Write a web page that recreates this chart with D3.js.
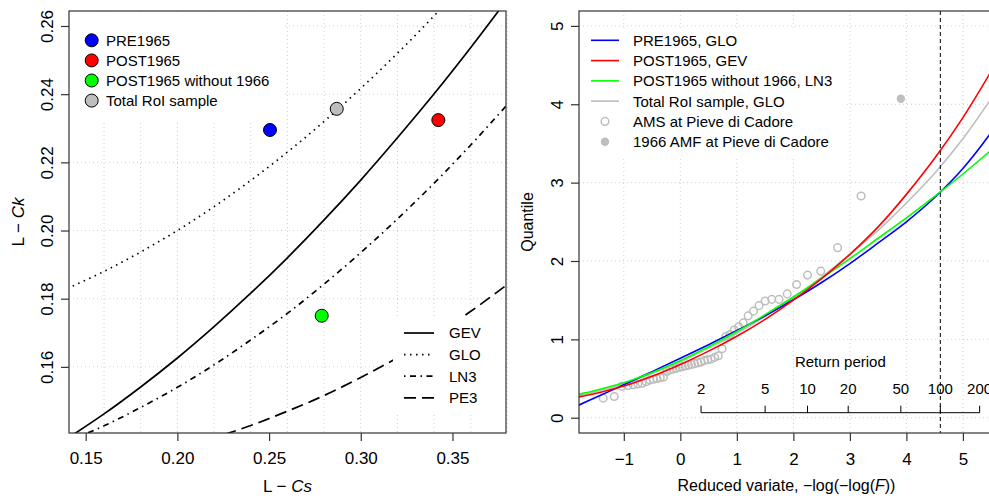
<!DOCTYPE html>
<html><head><meta charset="utf-8">
<script src="https://cdn.jsdelivr.net/npm/d3@7"></script>
<style>body{margin:0;background:#fff}svg{display:block;font-family:"Liberation Sans",Arial,Helvetica,sans-serif}</style>
</head><body><svg id="c" width="989" height="499"></svg>
<script>
// ---------- LEFT PANEL DATA: L-moment ratio diagram ----------
const lcsGrid = [0.14,0.16,0.18,0.20,0.22,0.24,0.26,0.28,0.30,0.32,0.34,0.36,0.38];
const gevLCk  = [0.1390,0.1462,0.1541,0.1626,0.1718,0.1816,0.1920,0.2031,0.2148,0.2272,0.2401,0.2537,0.2679];
const gloLCk  = [0.1830,0.1880,0.1937,0.2000,0.2070,0.2147,0.2230,0.2320,0.2417,0.2520,0.2630,0.2747,0.2870];
const ln3LCk  = [0.1381,0.1427,0.1481,0.1540,0.1606,0.1679,0.1757,0.1843,0.1935,0.2034,0.2139,0.2251,0.2370];
const pe3LCk  = [0.1287,0.1307,0.1331,0.1359,0.1392,0.1428,0.1470,0.1516,0.1569,0.1627,0.1692,0.1763,0.1842];
const distNames = ["GEV","GLO","LN3","PE3"];
const groupNames = ["PRE1965","POST1965","POST1965 without 1966","Total RoI sample"];
const groupColors = ["#0000ff","#ff0000","#00ff00","#bebebe"];
const groupLCs = [0.2505,0.3423,0.2787,0.2869];
const groupLCk = [0.2295,0.2324,0.1750,0.2357];
const lcsTicks = [0.15,0.20,0.25,0.30,0.35];
const lckTicks = [0.16,0.18,0.20,0.22,0.24,0.26];
const lcsGridLines = [0.16,0.18,0.20,0.22,0.24,0.26,0.28,0.30,0.32,0.34,0.36,0.38];

// ---------- RIGHT PANEL DATA: growth curves ----------
const reducedGrid = [-1.8,-1.5,-1,-0.5,0,0.5,1,1.5,2,2.5,3,3.5,4,4.5,5,5.5,5.8];
const pre1965GLO  = [0.16,0.258,0.42,0.588,0.758,0.932,1.112,1.302,1.505,1.725,1.967,2.23,2.50,2.81,3.18,3.64,3.96];
const post1965GEV = [0.265,0.31,0.405,0.53,0.68,0.85,1.04,1.255,1.50,1.775,2.085,2.435,2.85,3.31,3.83,4.42,4.80];
const postNo66LN3 = [0.30,0.348,0.445,0.578,0.728,0.905,1.10,1.315,1.54,1.78,2.03,2.29,2.55,2.825,3.11,3.415,3.61];
const totalGLO    = [0.28,0.33,0.43,0.565,0.715,0.885,1.075,1.29,1.53,1.795,2.085,2.39,2.74,3.12,3.56,4.07,4.40];
const curveNames = ["PRE1965, GLO","POST1965, GEV","POST1965 without 1966, LN3","Total RoI sample, GLO"];
const curveColors = ["#0000ff","#ff0000","#00ff00","#bebebe"];
// sorted annual maxima (growth factors) at Pieve di Cadore, 1966 excluded
const amsValues = [0.25,0.27,0.40,0.41,0.42,0.43,0.44,0.46,0.48,0.49,0.50,0.51,0.52,0.59,0.61,0.62,0.63,0.64,0.65,0.66,0.67,0.68,0.69,0.70,0.71,0.73,0.74,0.75,0.77,0.79,0.88,1.04,1.06,1.12,1.16,1.21,1.30,1.36,1.43,1.49,1.51,1.51,1.58,1.70,1.82,1.87,2.17,2.83];
const amf1966 = 4.07;
const returnPeriods = [2,5,10,20,50,100,200];
const designReturnPeriod = 100;
const quantileTicks = [0,1,2,3,4,5];
const reducedTicks = [-1,0,1,2,3,4,5];

// ---------- DRAWING ----------
const svg = d3.select("#c");
const FONT = 17, LEG = 15;
const axisCol = "#333";
const gridCol = "#cfcfcf";

// Left scales
const L = {x0:69, x1:506, y0:11, y1:433};
const xL = d3.scaleLinear().domain([0.1409,0.3792]).range([L.x0,L.x1]);
const yL = d3.scaleLinear().domain([0.1406,0.2644]).range([L.y1,L.y0]);
// Right scales
const R = {x0:579, x1:994, y0:11, y1:433};
const xR = d3.scaleLinear().domain([-1.793,5.55]).range([R.x0,R.x1]);
const yR = d3.scaleLinear().domain([-0.195,5.19]).range([R.y1,R.y0]);
const reducedVariate = T => -Math.log(-Math.log(1 - 1/T));

const defs = svg.append("defs");
defs.append("clipPath").attr("id","clipL").append("rect").attr("x",L.x0).attr("y",L.y0).attr("width",L.x1-L.x0).attr("height",L.y1-L.y0);
defs.append("clipPath").attr("id","clipR").append("rect").attr("x",R.x0).attr("y",R.y0).attr("width",R.x1-R.x0).attr("height",R.y1-R.y0);

// ----- left panel -----
const gL = svg.append("g");
const gridL = gL.append("g").attr("stroke",gridCol).attr("stroke-dasharray","1,3").attr("stroke-width",1);
gridL.selectAll("line.v").data(lcsGridLines).join("line").attr("x1",d=>xL(d)).attr("x2",d=>xL(d)).attr("y1",L.y0).attr("y2",L.y1);
gridL.selectAll("line.h").data(lckTicks).join("line").attr("x1",L.x0).attr("x2",L.x1).attr("y1",d=>yL(d)).attr("y2",d=>yL(d));

const curvesL = [gevLCk, gloLCk, ln3LCk, pe3LCk];
const dashL = [null,"1.5,4.5","1.5,4.5,6,4.5","12,6"];
const lineL = d3.line().x(d=>xL(d[0])).y(d=>yL(d[1])).curve(d3.curveCatmullRom);
const cg = gL.append("g").attr("clip-path","url(#clipL)");
curvesL.forEach((arr,i)=>{
  cg.append("path").datum(lcsGrid.map((v,j)=>[v,arr[j]])).attr("d",lineL)
    .attr("fill","none").attr("stroke","#000").attr("stroke-width",1.7)
    .attr("stroke-dasharray",dashL[i]);
});

// legends (white background)
gL.append("rect").attr("x",70).attr("y",12).attr("width",213).attr("height",111).attr("fill","#fff");
gL.append("rect").attr("x",393).attr("y",318).attr("width",112).attr("height",96).attr("fill","#fff");

// points
gL.append("g").selectAll("circle").data(groupNames).join("circle")
  .attr("cx",(d,i)=>xL(groupLCs[i])).attr("cy",(d,i)=>yL(groupLCk[i])).attr("r",6.5)
  .attr("fill",(d,i)=>groupColors[i]).attr("stroke","#000").attr("stroke-width",1);

// top-left legend
const lg1 = gL.append("g");
groupNames.forEach((n,i)=>{
  const cy = 40.3 + i*20.1;
  lg1.append("circle").attr("cx",91.7).attr("cy",cy).attr("r",6.5).attr("fill",groupColors[i]).attr("stroke","#000").attr("stroke-width",1);
  lg1.append("text").attr("x",106).attr("y",cy+5.4).attr("font-size",LEG).text(n);
});
// bottom-right legend
const lg2 = gL.append("g");
distNames.forEach((n,i)=>{
  const cy = 333 + i*21.6;
  lg2.append("line").attr("x1",404).attr("x2",434).attr("y1",cy).attr("y2",cy)
    .attr("stroke","#000").attr("stroke-width",1.7).attr("stroke-dasharray",dashL[i]);
  lg2.append("text").attr("x",449).attr("y",cy+5.4).attr("font-size",LEG).text(n);
});

// box & axes
gL.append("rect").attr("x",L.x0).attr("y",L.y0).attr("width",L.x1-L.x0).attr("height",L.y1-L.y0)
  .attr("fill","none").attr("stroke",axisCol).attr("stroke-width",1.2);
const axLx = gL.append("g").attr("transform",`translate(0,${L.y1})`)
  .call(d3.axisBottom(xL).tickValues(lcsTicks).tickFormat(d3.format(".2f")).tickSize(8).tickPadding(4));
const axLy = gL.append("g").attr("transform",`translate(${L.x0},0)`)
  .call(d3.axisLeft(yL).tickValues(lckTicks).tickFormat(d3.format(".2f")).tickSize(8));
[axLx,axLy].forEach(a=>{a.select(".domain").remove(); a.selectAll("line").attr("stroke",axisCol).attr("stroke-width",1.2);
  a.selectAll("text").attr("font-size",FONT).attr("font-family","Liberation Sans, Arial, sans-serif").attr("fill","#000");});
axLx.selectAll("text").attr("dy",null).attr("y",31);
axLy.selectAll("text").attr("x",null).attr("dy",null).attr("text-anchor","middle")
  .attr("transform","translate(-16,0) rotate(-90)");

// axis titles
const tL = gL.append("text").attr("x",(L.x0+L.x1)/2).attr("y",492).attr("text-anchor","middle").attr("font-size",17);
tL.append("tspan").text("L \u2212 ");
tL.append("tspan").attr("font-style","italic").text("Cs");
const tLy = gL.append("text").attr("transform",`translate(24,${(L.y0+L.y1)/2}) rotate(-90)`).attr("text-anchor","middle").attr("font-size",17);
tLy.append("tspan").text("L \u2212 ");
tLy.append("tspan").attr("font-style","italic").text("Ck");

// ----- right panel -----
const gR = svg.append("g");
const gridR = gR.append("g").attr("stroke",gridCol).attr("stroke-dasharray","1,3").attr("stroke-width",1);
gridR.selectAll("line.v").data(reducedTicks).join("line").attr("x1",d=>xR(d)).attr("x2",d=>xR(d)).attr("y1",R.y0).attr("y2",R.y1);
gridR.selectAll("line.h").data(quantileTicks).join("line").attr("x1",R.x0).attr("x2",R.x1).attr("y1",d=>yR(d)).attr("y2",d=>yR(d));

// legend background
gR.append("rect").attr("x",580).attr("y",28).attr("width",267).attr("height",131).attr("fill","#fff");

const cr = gR.append("g").attr("clip-path","url(#clipR)");
// AMS points (Weibull plotting positions)
const nTot = amsValues.length + 1;
cr.append("g").selectAll("circle").data(amsValues).join("circle")
  .attr("cx",(d,i)=>xR(-Math.log(-Math.log((i+1)/(nTot+1))))).attr("cy",d=>yR(d)).attr("r",3.8)
  .attr("fill","none").attr("stroke","#bebebe").attr("stroke-width",1.5);
cr.append("circle").attr("cx",xR(-Math.log(-Math.log(nTot/(nTot+1))))).attr("cy",yR(amf1966)).attr("r",4.2).attr("fill","#bebebe");

const curvesR = [pre1965GLO, post1965GEV, postNo66LN3, totalGLO];
const lineR = d3.line().x(d=>xR(d[0])).y(d=>yR(d[1])).curve(d3.curveCatmullRom);
[3,0,2,1].forEach(i=>{
  cr.append("path").datum(reducedGrid.map((v,j)=>[v,curvesR[i][j]])).attr("d",lineR)
    .attr("fill","none").attr("stroke",curveColors[i]).attr("stroke-width",1.6);
});

// T=100 dashed line
cr.append("line").attr("x1",xR(reducedVariate(designReturnPeriod))).attr("x2",xR(reducedVariate(designReturnPeriod)))
  .attr("y1",R.y0).attr("y2",R.y1).attr("stroke","#000").attr("stroke-width",1).attr("stroke-dasharray","4,3");

// return period axis
const rpY = 412.7;
const rpg = gR.append("g");
rpg.append("line").attr("x1",xR(reducedVariate(returnPeriods[0]))).attr("x2",xR(reducedVariate(returnPeriods[returnPeriods.length-1])))
  .attr("y1",rpY).attr("y2",rpY).attr("stroke","#000").attr("stroke-width",1);
rpg.selectAll("line.t").data(returnPeriods).join("line").attr("class","t")
  .attr("x1",d=>xR(reducedVariate(d))).attr("x2",d=>xR(reducedVariate(d))).attr("y1",rpY).attr("y2",rpY-7)
  .attr("stroke","#000").attr("stroke-width",1);
rpg.selectAll("text.t").data(returnPeriods).join("text").attr("class","t")
  .attr("x",d=>xR(reducedVariate(d))).attr("y",394).attr("text-anchor","middle").attr("font-size",LEG).text(d=>d);
rpg.append("text").attr("x",(xR(reducedVariate(2))+xR(reducedVariate(200)))/2).attr("y",367)
  .attr("text-anchor","middle").attr("font-size",LEG).text("Return period");

// right legend
const lg3 = gR.append("g");
const legR = curveNames.concat(["AMS at Pieve di Cadore","1966 AMF at Pieve di Cadore"]);
legR.forEach((n,i)=>{
  const cy = 40.3 + i*20.28;
  if(i<4){
    lg3.append("line").attr("x1",591).attr("x2",619).attr("y1",cy).attr("y2",cy).attr("stroke",curveColors[i]).attr("stroke-width",1.6);
  } else if(i===4){
    lg3.append("circle").attr("cx",605).attr("cy",cy).attr("r",3.8).attr("fill","none").attr("stroke","#bebebe").attr("stroke-width",1.5);
  } else {
    lg3.append("circle").attr("cx",605).attr("cy",cy).attr("r",4.2).attr("fill","#bebebe");
  }
  lg3.append("text").attr("x",633).attr("y",cy+5.4).attr("font-size",LEG).text(n);
});

// box & axes
gR.append("rect").attr("x",R.x0).attr("y",R.y0).attr("width",R.x1-R.x0).attr("height",R.y1-R.y0)
  .attr("fill","none").attr("stroke",axisCol).attr("stroke-width",1.2);
const axRx = gR.append("g").attr("transform",`translate(0,${R.y1})`)
  .call(d3.axisBottom(xR).tickValues(reducedTicks).tickFormat(d=>d<0?"\u2212"+Math.abs(d):d).tickSize(8));
const axRy = gR.append("g").attr("transform",`translate(${R.x0},0)`)
  .call(d3.axisLeft(yR).tickValues(quantileTicks).tickFormat(d=>d).tickSize(8));
[axRx,axRy].forEach(a=>{a.select(".domain").remove(); a.selectAll("line").attr("stroke",axisCol).attr("stroke-width",1.2);
  a.selectAll("text").attr("font-size",FONT).attr("font-family","Liberation Sans, Arial, sans-serif").attr("fill","#000");});
axRx.selectAll("text").attr("dy",null).attr("y",32);
axRy.selectAll("text").attr("x",null).attr("dy",null).attr("text-anchor","middle")
  .attr("transform","translate(-16,0) rotate(-90)");

const tR = gR.append("text").attr("x",786.5).attr("y",491).attr("text-anchor","middle").attr("font-size",16);
tR.append("tspan").text("Reduced variate,  \u2212log(\u2212log(");
tR.append("tspan").attr("font-style","italic").text("F");
tR.append("tspan").text("))");
gR.append("text").attr("transform",`translate(533,${(R.y0+R.y1)/2}) rotate(-90)`).attr("text-anchor","middle").attr("font-size",16).text("Quantile");
</script></body></html>
